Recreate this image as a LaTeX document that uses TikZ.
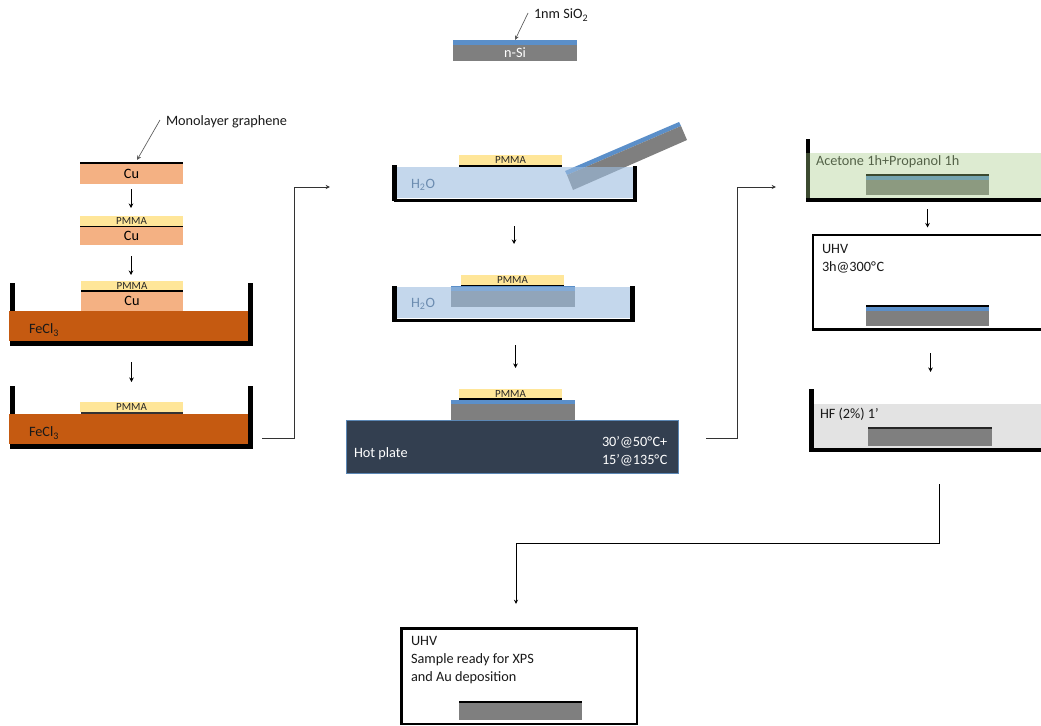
\documentclass[tikz,border=0pt]{standalone}
\usepackage{fontspec}
\setmainfont{Carlito}
\usetikzlibrary{arrows.meta}
\definecolor{cu}{HTML}{F4B183}
\definecolor{pm}{HTML}{FFE699}
\definecolor{fe}{HTML}{C55A11}
\definecolor{sib}{HTML}{5B8FC9}
\definecolor{sig}{HTML}{7F7F7F}
\definecolor{wat}{HTML}{9EBEE0}
\definecolor{gre}{HTML}{A3CA83}
\definecolor{hp}{HTML}{333F50}
\definecolor{hpb}{HTML}{5B87B5}
\definecolor{hf}{HTML}{E3E3E3}
\definecolor{h2o}{HTML}{6C8CB0}
\tikzset{
  lay/.style={inner sep=0pt,outer sep=0pt,draw=none,font=\fontsize{10.7}{12}\selectfont,text=black},
  pmtxt/.style={font=\fontsize{8.2}{9}\selectfont,text=black!85},
  lbl/.style={inner sep=0pt,outer sep=0pt,anchor=west,align=left,yshift=-0.75pt,font=\fontsize{10.7}{13.5}\selectfont,text=black!90},
  arr/.style={-{Stealth[length=3.4pt,width=3.4pt]},line width=0.65pt,black},
  flow/.style={-{Stealth[length=3.2pt,width=3pt]},line width=0.75pt,black!80},
  lead/.style={-{Stealth[length=3.4pt,width=3.2pt]},line width=0.5pt,black!65},
  wall/.style={fill=black,draw=none},
  box/.style={draw=black,line width=1.6pt,fill=white}
}
\newcommand{\lay}[7][]{\node[lay,#1,fill=#7,minimum width={(#4-#2)*0.75pt},minimum height={(#5-#3)*0.75pt}] (#6) at ({(#2+#4)/2},{(#3+#5)/2}) {};}
\newcommand{\tlay}[8][]{\node[lay,#1,fill=#7,minimum width={(#4-#2)*0.75pt},minimum height={(#5-#3)*0.75pt}] (#6) at ({(#2+#4)/2},{(#3+#5)/2}) {#8};}
\newcommand{\conn}[5]{\draw[arr,shorten <={#4*0.75pt},shorten >={#5*0.75pt}] ([xshift={#3*0.75pt}]#1.south) -- ([xshift={#3*0.75pt}]#1.south |- #2.north);}
\newcommand{\degC}{°\kern0.4ptC}
\begin{document}
\begin{tikzpicture}[x=0.75pt,y=-0.75pt]
\useasboundingbox (0,0) rectangle (1041,725);
\clip (0,0) rectangle (1041,725);
% top substrate
\tlay[text=white]{453}{44}{577}{61}{nsi}{sig}{n-Si}
\lay{453}{40}{577}{44.5}{nsiox}{sib}
\node[lbl] (sioxl) at (534,14) {1nm SiO\textsubscript{2}};
\coordinate (sioxs) at (528,13);
\draw[lead] (sioxs) -- (nsiox.north);
% left column
\tlay{80}{164}{183}{184}{cua}{cu}{Cu}
\lay{80}{162}{183}{164}{gra}{black}
\node[lbl] (monol) at (166,121) {Monolayer graphene};
\coordinate (monos) at (160,120);
\coordinate (monoe) at (137,160);
\draw[lead] (monos) -- (monoe);
\tlay[pmtxt]{80}{216}{183}{226}{pmb}{pm}{PMMA}
\lay{80}{225.5}{183}{227}{grb}{black}
\tlay{80}{227}{183}{245}{cub}{cu}{Cu}
\tlay[pmtxt]{81}{281}{183}{290.5}{pmc}{pm}{PMMA}
\lay{81}{290}{183}{291.5}{grc}{black}
\tlay{81}{291.5}{183}{311}{cuc}{cu}{Cu}
\fill[wall] (10,283) rectangle (15,346);
\lay{9}{311}{248}{341}{fea}{fe}
\fill[wall] (248,283) rectangle (253,346);
\fill[wall] (10,341) rectangle (253,346);
\node[lbl] (fetxa) at (29,329) {FeCl\textsubscript{3}};
\tlay[pmtxt]{80}{402}{183}{412}{pmd}{pm}{PMMA}
\lay{81}{412}{183}{414}{grd}{black!80}
\fill[wall] (10,386) rectangle (15,449);
\lay{9}{414}{248}{444}{feb}{fe}
\fill[wall] (248,386) rectangle (253,449);
\fill[wall] (10,444) rectangle (253,449);
\node[lbl] (fetxb) at (29,432) {FeCl\textsubscript{3}};
\conn{cua}{pmb}{-0.5}{5}{8}
\conn{cub}{pmc}{-0.5}{11}{6}
\conn{cuc}{pmd}{-0.5}{51}{20}
% connector 1
\coordinate (fa) at (262,438);
\coordinate (fb) at (330,187);
\draw[flow] (fa) -- (294,438) |- (fb);
% centre bath 1
\fill[sib] (565,171) -- (679,122) -- (681,126) -- (567,175) -- cycle;
\fill[sig] (567,175) -- (681,126) -- (687,140) -- (573,190) -- cycle;
\lay[fill opacity=0.61]{397}{167}{633}{198}{wa}{wat}
\node[lbl,text=h2o] (hto) at (411,184) {H\textsubscript{2}O};
\tlay[pmtxt]{459}{155}{562}{164.5}{pme}{pm}{PMMA}
\lay{459}{164.5}{562}{166.5}{gre1}{black}
\fill[wall] (392,165) rectangle (397,201);
\fill[wall] (633,166) rectangle (637,202);
\fill[wall] (394,198.5) rectangle (637,202);
% centre bath 2
\lay{451}{290}{575}{307}{sib2}{sig}
\lay{451}{286}{575}{290.5}{sio2}{sib}
\lay[fill opacity=0.61]{397}{287}{630}{318}{wb}{wat}
\node[lbl,text=h2o] (htb) at (411,303) {H\textsubscript{2}O};
\tlay[pmtxt]{461}{275}{564}{285}{pmf}{pm}{PMMA}
\lay{461}{284.7}{564}{286.2}{grf}{black}
\fill[wall] (392,286) rectangle (397,322);
\fill[wall] (630,286) rectangle (635,322);
\fill[wall] (392,318.5) rectangle (635,322);
% hot plate
\node[lay,draw=hpb,line width=0.6pt,fill=hp,minimum width={332*0.75pt},minimum height={53*0.75pt}] (hot) at (512,446.5) {};
\lay{451}{403}{575}{420}{sic}{sig}
\lay{451}{400}{575}{403.5}{sioc}{sib}
\tlay[pmtxt]{459}{389}{562}{398}{pmg}{pm}{PMMA}
\lay{459}{398}{562}{400}{grg}{black}
\node[lbl,text=white] (hotl) at (354,453) {Hot plate};
\node[lbl,text=white] (hott) at (602,450) {30’@50\degC+\\15’@135\degC};
\conn{wa}{pmf}{-1}{28}{31}
\conn{wb}{pmg}{2}{27}{21}
% connector 2
\coordinate (ga) at (706,438);
\coordinate (gb) at (776,187);
\draw[flow] (ga) -- (737,438) |- (gb);
% acetone
\fill[wall] (806,139) rectangle (810,201);
\lay{866}{179}{989}{195}{sih}{sig}
\lay{866}{175.5}{989}{179.5}{sioh}{sib}
\lay{866}{173.5}{989}{175.5}{grh}{black}
\node[lbl,text=black!85] (acet) at (816,161) {Acetone 1h+Propanol 1h};
\node[lay,fill=gre,fill opacity=0.37,minimum width={(1060-806)*0.75pt},minimum height={45*0.75pt}] (wc) at (933,175.5) {};
\fill[wall] (806,198) rectangle (1060,201.5);
% UHV 1
\path[box] (813,235) rectangle (1060,329.5);
\node[lbl] (uhva) at (822,257.5) {UHV\\3h@300\degC};
\lay{866}{310}{989}{326}{sii}{sig}
\lay{866}{306.5}{989}{310.5}{sioi}{sib}
\lay{866}{304.5}{989}{306.5}{gri}{black}
% HF
\lay{814}{404}{1060}{448}{hfw}{hf}
\fill[wall] (809,389) rectangle (814,452);
\fill[wall] (809,448) rectangle (1060,452);
\node[lbl] (hfl) at (820,413) {HF (2\%) 1’};
\lay{868}{429}{992}{446}{sij}{sig}
\lay{868}{427}{992}{429}{grj}{black!85}
\conn{sih}{gri}{0}{14}{77}
\conn{sii}{grj}{3}{27}{55}
% connector 3
\coordinate (ha) at (939,484);
\coordinate (hb) at (516,604);
\draw[flow,black] (ha) |- (516,543) -- (hb);
% final box
\path[box] (401.5,628.5) rectangle (637,723.8);
\node[lbl] (uhvb) at (411,659) {UHV\\Sample ready for XPS\\and Au deposition};
\lay{459}{703}{582}{720}{sik}{sig}
\lay{459}{701}{582}{703}{grk}{black}
\end{tikzpicture}
\end{document}
